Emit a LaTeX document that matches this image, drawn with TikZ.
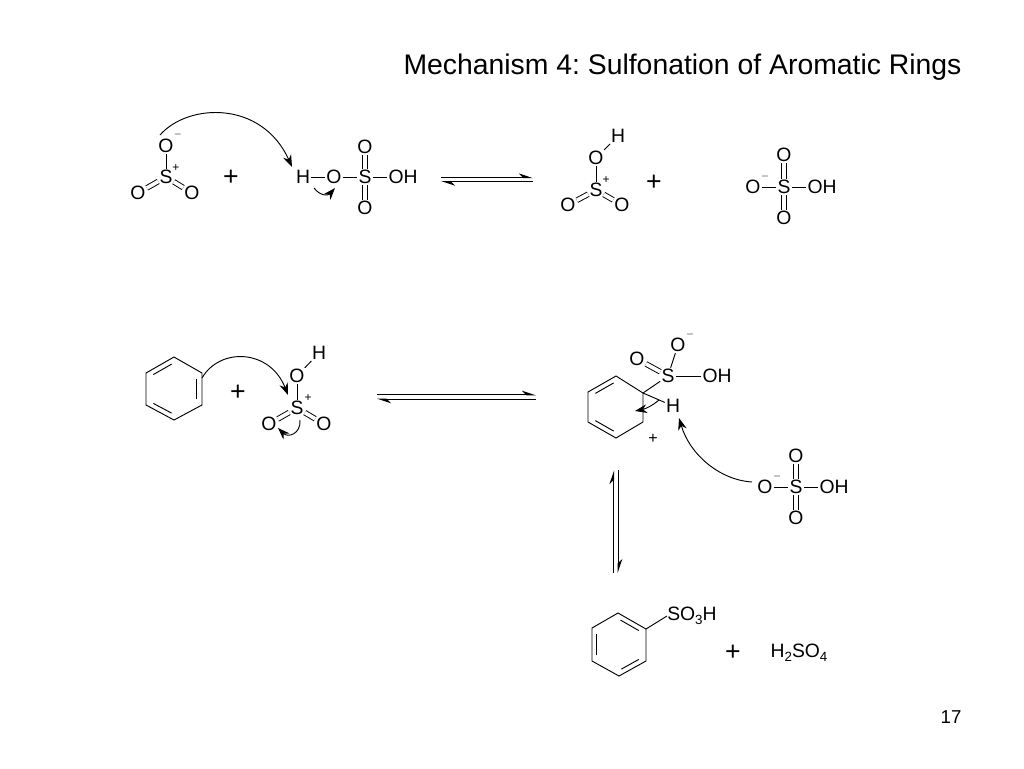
\documentclass[tikz,border=0pt]{standalone}
\usepackage{fontspec}
\setmainfont{Liberation Sans}
\usetikzlibrary{arrows.meta,calc}
\newcommand{\lowsub}[1]{\raisebox{-3.2pt}{\fontsize{10}{10}\selectfont #1}}
\frenchspacing
\tikzset{
    atom/.style={inner sep=0.8pt, font=\fontsize{14.5}{16}\selectfont},
    charge/.style={inner sep=0pt, font=\fontsize{9}{10}\selectfont},
    minuscharge/.style={charge, text=black!55},
    sign/.style={inner sep=0pt, font=\fontsize{20}{22}\selectfont},
    bond/.style={line width=0.7pt},
    dbl/.style={bond, double, double distance=2.8pt},
    curly/.style={line width=0.7pt, -{Stealth[length=9pt,width=6.5pt]}},
    eqline/.style={line width=1pt, -{Stealth[harpoon,length=9pt,width=6pt]}}
}
\begin{document}
\begin{tikzpicture}[x=0.75pt, y=-0.75pt]
        \useasboundingbox (0,0) rectangle (1024,768);

        % Title and page number
        \node[inner sep=0pt, font=\fontsize{21.27}{24}\selectfont] (title) at (682.5,67) {Mechanism 4: Sulfonation of Aromatic Rings};
        \node[inner sep=0pt, font=\fontsize{14}{16}\selectfont] (pagenum) at (951,717) {17};

        % SO3 cation
        \node[atom] (oa) at (166,146) {O};
        \node[atom] (sa) at (166,177) {S};
        \node[atom] (ob) at (138,193) {O};
        \node[atom] (oc) at (192,193) {O};
        \node[minuscharge] (ma) at (178,136) {−};
        \node[charge] (pa) at (176,168) {+};
        \draw[bond] (oa) -- (sa);
        \draw[dbl] (sa) -- (ob);
        \draw[dbl] (sa) -- (oc);
        \node[sign] (plusa) at (231,178) {+};

        % Sulfuric acid
        \node[atom] (hd) at (303,177) {H};
        \node[atom] (od) at (334,177) {O};
        \node[atom] (sd) at (365,177) {S};
        \node[atom] (ohd) at (403,177) {OH};
        \node[atom] (oe) at (365,147) {O};
        \node[atom] (of) at (365,208) {O};
        \draw[bond] (hd) -- (od);
        \draw[bond] (od) -- (sd);
        \draw[bond] (sd) -- (ohd);
        \draw[dbl] (sd) -- (oe);
        \draw[dbl] (sd) -- (of);

        % Curved arrows, first step
        \coordinate (arra) at (160,135);
        \coordinate (arrb) at (292,167);
        \coordinate (arrc) at (314,188);
        \coordinate (arrd) at (335,188);
        \draw[curly] (arra) .. controls (188,103) and (262,100) .. (arrb);
        \draw[curly] (arrc) .. controls (320,196) and (328,196) .. (arrd);

        % First equilibrium
        \coordinate (eqa) at (441,177.5);
        \coordinate (eqb) at (533,177.5);
        \coordinate (eqc) at (533,181.7);
        \coordinate (eqd) at (441,181.7);
        \draw[eqline] (eqa) -- (eqb);
        \draw[eqline] (eqc) -- (eqd);

        % Protonated SO3
        \node[atom] (hg) at (618,136) {H};
        \node[atom] (og) at (596,158) {O};
        \node[atom] (sg) at (596,190) {S};
        \node[atom] (oh) at (568,205) {O};
        \node[atom] (oi) at (622,205) {O};
        \node[charge] (pg) at (606,180) {+};
        \draw[bond] (hg) -- (og);
        \draw[bond] (og) -- (sg);
        \draw[dbl] (sg) -- (oh);
        \draw[dbl] (sg) -- (oi);
        \node[sign] (plusb) at (654,183) {+};

        % Bisulfate
        \node[atom] (oj) at (753,187) {O};
        \node[atom] (sj) at (784,187) {S};
        \node[atom] (ohj) at (822,187) {OH};
        \node[atom] (ok) at (784,155) {O};
        \node[atom] (ol) at (784,218) {O};
        \node[minuscharge] (mj) at (765,178) {−};
        \draw[bond] (oj) -- (sj);
        \draw[bond] (sj) -- (ohj);
        \draw[dbl] (sj) -- (ok);
        \draw[dbl] (sj) -- (ol);

        % Benzene
        \coordinate (ra1) at (174,357);
        \coordinate (ra2) at (202,373);
        \coordinate (ra3) at (202,405);
        \coordinate (ra4) at (174,420);
        \coordinate (ra5) at (146,405);
        \coordinate (ra6) at (146,373);
        \coordinate (rac) at (174,389);
        \draw[bond] (ra1) -- (ra2) -- (ra3) -- (ra4) -- (ra5) -- (ra6) -- cycle;
        \foreach \p/\q in {ra6/ra1,ra2/ra3,ra4/ra5}
            \draw[bond, shorten <=2pt, shorten >=2pt] ($(\p)!0.18!(rac)$) -- ($(\q)!0.18!(rac)$);
        \node[sign] (plusc) at (238,393) {+};

        % Protonated SO3, second row
        \node[atom] (hm) at (319,353) {H};
        \node[atom] (om) at (297,376) {O};
        \node[atom] (sm) at (297,408) {S};
        \node[atom] (on) at (269,424) {O};
        \node[atom] (oo) at (324,424) {O};
        \node[charge] (pm) at (308,398) {+};
        \draw[bond] (hm) -- (om);
        \draw[bond] (om) -- (sm);
        \draw[dbl] (sm) -- (on);
        \draw[dbl] (sm) -- (oo);

        % Curved arrows, second step
        \coordinate (arre) at (202,378);
        \coordinate (arrf) at (288,395);
        \coordinate (arrg) at (300,420);
        \coordinate (arrh) at (278,428);
        \draw[curly] (arre) .. controls (220,347) and (270,349) .. (arrf);
        \draw[curly] (arrg) .. controls (301,434) and (288,438) .. (arrh);

        % Second equilibrium
        \coordinate (eqe) at (377,394.7);
        \coordinate (eqf) at (536,394.7);
        \coordinate (eqg) at (536,399.3);
        \coordinate (eqh) at (377,399.3);
        \draw[eqline] (eqe) -- (eqf);
        \draw[eqline] (eqg) -- (eqh);

        % Arenium ion
        \coordinate (rb1) at (616,376);
        \coordinate (rb2) at (643,393);
        \coordinate (rb3) at (643,422);
        \coordinate (rb4) at (616,438);
        \coordinate (rb5) at (588,422);
        \coordinate (rb6) at (588,392);
        \coordinate (rbc) at (616,407);
        \draw[bond] (rb1) -- (rb2) -- (rb3) -- (rb4) -- (rb5) -- (rb6) -- cycle;
        \foreach \p/\q in {rb6/rb1,rb4/rb5}
            \draw[bond, shorten <=2pt, shorten >=2pt] ($(\p)!0.18!(rbc)$) -- ($(\q)!0.18!(rbc)$);
        \node[atom] (sp) at (668,376) {S};
        \node[atom] (op) at (678,345) {O};
        \node[atom] (oq) at (637,359) {O};
        \node[atom] (ohp) at (717,376) {OH};
        \node[atom] (hp) at (673,406) {H};
        \node[minuscharge] (mp) at (690,336) {−};
        \node[charge, font=\fontsize{12}{12}\selectfont] (pp) at (653,439) {+};
        \draw[bond] (rb2) -- (sp);
        \draw[bond] (sp) -- (op);
        \draw[dbl] (sp) -- (oq);
        \draw[bond] (sp) -- (ohp);
        \draw[bond] (rb2) -- (hp);

        % Bisulfate, second row
        \node[atom] (or) at (765,487) {O};
        \node[atom] (sr) at (796,487) {S};
        \node[atom] (ohr) at (834,487) {OH};
        \node[atom] (os) at (796,456) {O};
        \node[atom] (ot) at (796,518) {O};
        \node[minuscharge] (mr) at (777,478) {−};
        \draw[bond] (or) -- (sr);
        \draw[bond] (sr) -- (ohr);
        \draw[dbl] (sr) -- (os);
        \draw[dbl] (sr) -- (ot);

        % Curved arrows, third step
        \coordinate (arri) at (659,400);
        \coordinate (arrj) at (635,411);
        \coordinate (arrk) at (752,482);
        \coordinate (arrl) at (679,418);
        \draw[curly] (arri) .. controls (652,406) and (645,409) .. (arrj);
        \draw[curly] (arrk) .. controls (720,480) and (690,455) .. (arrl);

        % Third equilibrium
        \coordinate (eqi) at (613.5,573);
        \coordinate (eqj) at (613.5,470);
        \coordinate (eqk) at (618.3,470);
        \coordinate (eql) at (618.3,573);
        \draw[eqline] (eqi) -- (eqj);
        \draw[eqline] (eqk) -- (eql);

        % Benzenesulfonic acid
        \coordinate (rc1) at (618,613);
        \coordinate (rc2) at (646,629);
        \coordinate (rc3) at (646,661);
        \coordinate (rc4) at (619,676);
        \coordinate (rc5) at (592,661);
        \coordinate (rc6) at (592,628);
        \coordinate (rcc) at (619,645);
        \draw[bond] (rc1) -- (rc2) -- (rc3) -- (rc4) -- (rc5) -- (rc6) -- cycle;
        \foreach \p/\q in {rc1/rc2,rc3/rc4,rc5/rc6}
            \draw[bond, shorten <=2pt, shorten >=2pt] ($(\p)!0.18!(rcc)$) -- ($(\q)!0.18!(rcc)$);
        \node[atom, anchor=west, inner sep=0pt] (sulf) at (667,616) {SO\lowsub{3}H};
        \draw[bond] (rc2) -- (sulf.west);
        \node[sign] (plusd) at (733,653) {+};
        \node[atom, inner sep=0pt] (acid) at (799,653) {H\lowsub{2}SO\lowsub{4}};
\end{tikzpicture}
\end{document}
